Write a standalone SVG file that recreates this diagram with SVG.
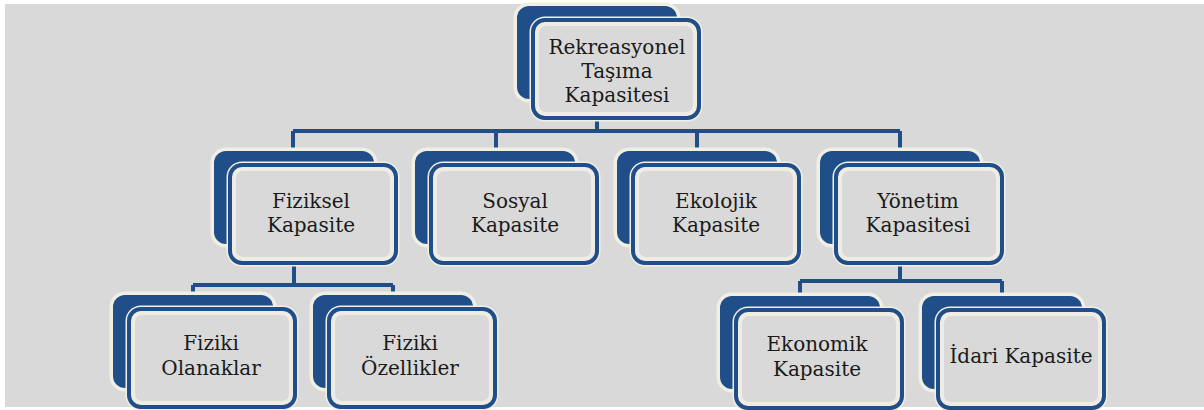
<svg xmlns="http://www.w3.org/2000/svg" width="1204" height="410" viewBox="0 0 1204 410">
<defs>
<style>
.bg{fill:#d9d9d9}
.halo{fill:none;stroke:#f1efe4;stroke-width:7}
.back{fill:#1f4e89}
.front{fill:#efede3;stroke:#1f4e89;stroke-width:4}
.inner{fill:#d9d9d9}
.conn{fill:none;stroke:#1f4e89;stroke-width:4}
.lbl{font-family:'DejaVu Serif','Liberation Serif',serif;font-size:20px;fill:#1a1a1a;text-anchor:middle}
</style>
<g id="card">
<rect class="halo" x="0" y="0" width="160" height="93" rx="12"/>
<rect class="back" x="0" y="0" width="160" height="93" rx="12"/>
<rect class="halo" x="16" y="14" width="166" height="98" rx="12"/>
<rect class="front" x="16" y="14" width="166" height="98" rx="12"/>
<rect class="inner" x="22" y="20" width="154" height="86" rx="7"/>
</g>
</defs>
<rect x="0" y="0" width="1204" height="410" fill="#ffffff"/>
<rect class="bg" x="5" y="4" width="1199" height="403"/>
<g id="connectors">
<path class="conn" d="M597,118 V131 M293,131 H900 M293,131 V152 M496,131 V152 M697,131 V152 M900,131 V152"/>
<path class="conn" d="M294,260 V285 M193,285 H393 M193,285 V296 M393,285 V296"/>
<path class="conn" d="M900,260 V281 M800,281 H1002 M800,281 V296 M1002,281 V296"/>
</g>
<g id="n-root" transform="translate(517,6)">
<use href="#card"/>
<text class="lbl" x="100" y="48">Rekreasyonel</text>
<text class="lbl" x="100" y="72">Taşıma</text>
<text class="lbl" x="100" y="96">Kapasitesi</text>
</g>
<g id="n-fiziksel" transform="translate(214,151)">
<use href="#card"/>
<text class="lbl" x="97" y="57">Fiziksel</text>
<text class="lbl" x="97" y="81">Kapasite</text>
</g>
<g id="n-sosyal" transform="translate(415,151)">
<use href="#card"/>
<text class="lbl" x="100" y="57">Sosyal</text>
<text class="lbl" x="100" y="81">Kapasite</text>
</g>
<g id="n-ekolojik" transform="translate(617,151)">
<use href="#card"/>
<text class="lbl" x="99" y="57">Ekolojik</text>
<text class="lbl" x="99" y="81">Kapasite</text>
</g>
<g id="n-yonetim" transform="translate(820,151)">
<use href="#card"/>
<text class="lbl" x="98" y="57">Yönetim</text>
<text class="lbl" x="98" y="81">Kapasitesi</text>
</g>
<g id="n-olanaklar" transform="translate(113,295)">
<use href="#card"/>
<text class="lbl" x="98" y="55">Fiziki</text>
<text class="lbl" x="98" y="80">Olanaklar</text>
</g>
<g id="n-ozellikler" transform="translate(313,295)">
<use href="#card"/>
<text class="lbl" x="97" y="55">Fiziki</text>
<text class="lbl" x="97" y="80">Özellikler</text>
</g>
<g id="n-ekonomik" transform="translate(720,296)">
<use href="#card"/>
<text class="lbl" x="97" y="55">Ekonomik</text>
<text class="lbl" x="97" y="80">Kapasite</text>
</g>
<g id="n-idari" transform="translate(922,296)">
<use href="#card"/>
<text class="lbl" x="99" y="67">İdari Kapasite</text>
</g>
</svg>
